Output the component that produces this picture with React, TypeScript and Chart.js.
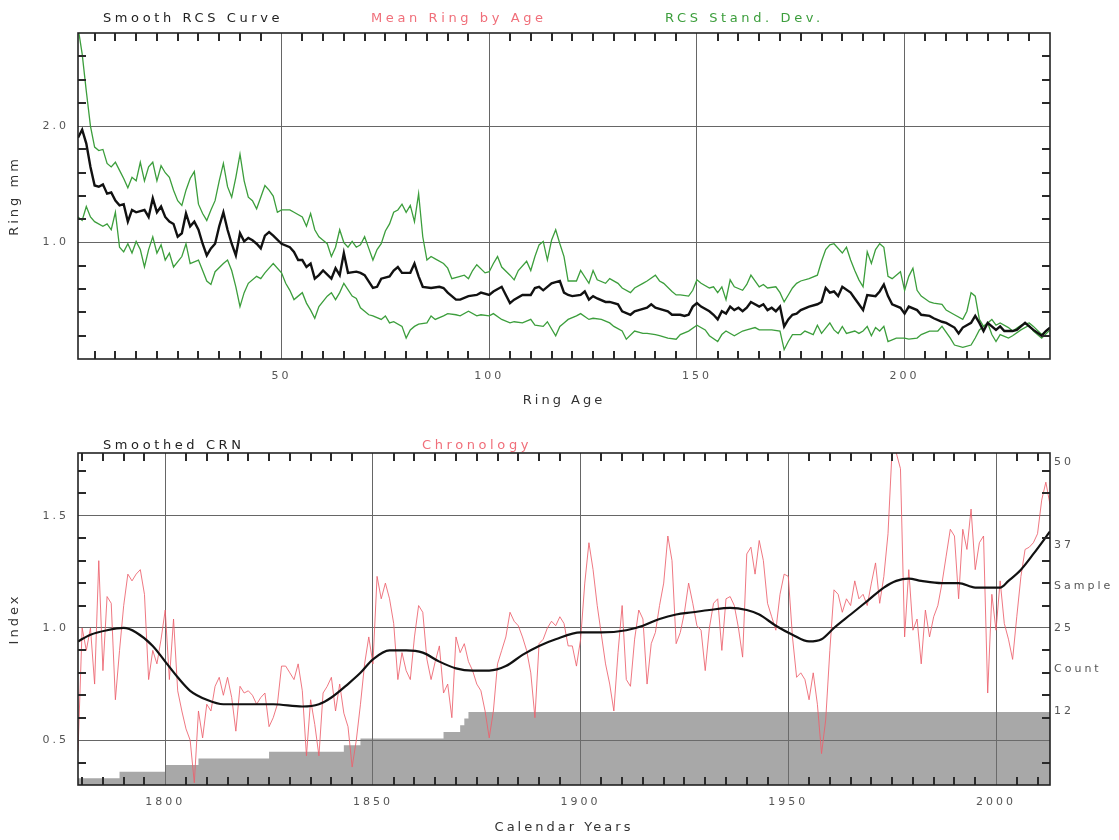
import React, { useEffect, useRef } from 'react';
import { Chart, registerables } from 'chart.js';

Chart.register(...registerables);
Chart.defaults.font.family = '"DejaVu Sans", sans-serif';

// ---------- Top chart: RCS curve (Ring age vs ring width, mm) ----------
const rcsCurve: [number, number][] = [
  [1,1.90],[2,1.97],[3,1.85],[4,1.65],[5,1.49],[6,1.48],[7,1.50],[8,1.42],[9,1.43],[10,1.36],[11,1.32],[12,1.33],[13,1.18],[14,1.28],[15,1.26],[16,1.27],[17,1.28],[18,1.22],[19,1.38],[20,1.26],[21,1.31],[22,1.22],[23,1.18],[24,1.16],[25,1.05],[26,1.08],[27,1.25],[28,1.14],[29,1.18],[30,1.11],[31,0.99],[32,0.89],[33,0.95],[34,0.99],[35,1.14],[36,1.26],[37,1.11],[38,0.99],[39,0.89],[40,1.08],[41,1.01],[42,1.04],[43,1.02],[44,0.99],[45,0.95],[46,1.06],[47,1.09],[48,1.06],[50,0.99],[52,0.96],[53,0.92],[54,0.85],[55,0.85],[56,0.79],[57,0.82],[58,0.69],[59,0.72],[60,0.76],[62,0.69],[63,0.78],[64,0.72],[65,0.91],[66,0.74],[68,0.75],[69,0.74],[70,0.72],[72,0.61],[73,0.62],[74,0.69],[76,0.71],[77,0.76],[78,0.79],[79,0.74],[81,0.74],[82,0.82],[83,0.71],[84,0.62],[86,0.61],[88,0.62],[89,0.61],[90,0.57],[92,0.51],[93,0.51],[95,0.54],[97,0.55],[98,0.57],[100,0.55],[101,0.58],[103,0.62],[104,0.55],[105,0.48],[106,0.51],[108,0.55],[110,0.55],[111,0.61],[112,0.62],[113,0.59],[115,0.65],[116,0.66],[117,0.67],[118,0.57],[119,0.55],[120,0.54],[122,0.55],[123,0.58],[124,0.51],[125,0.54],[126,0.52],[128,0.49],[129,0.49],[131,0.47],[132,0.41],[134,0.38],[135,0.41],[136,0.42],[138,0.44],[139,0.47],[140,0.44],[142,0.42],[143,0.41],[144,0.38],[146,0.38],[147,0.37],[148,0.38],[149,0.45],[150,0.48],[151,0.45],[153,0.41],[154,0.38],[155,0.34],[156,0.41],[157,0.39],[158,0.45],[159,0.42],[160,0.44],[161,0.41],[162,0.44],[163,0.49],[165,0.45],[166,0.47],[167,0.42],[168,0.44],[169,0.41],[170,0.45],[171,0.28],[172,0.34],[173,0.38],[174,0.39],[175,0.42],[177,0.45],[179,0.47],[180,0.49],[181,0.61],[182,0.57],[183,0.58],[184,0.54],[185,0.62],[187,0.57],[188,0.52],[189,0.47],[190,0.42],[191,0.55],[193,0.54],[194,0.58],[195,0.64],[196,0.54],[197,0.47],[199,0.44],[200,0.39],[201,0.45],[203,0.42],[204,0.38],[206,0.37],[207,0.35],[209,0.32],[210,0.31],[212,0.27],[213,0.22],[214,0.27],[216,0.31],[217,0.37],[218,0.31],[219,0.24],[220,0.31],[222,0.25],[223,0.28],[224,0.24],[226,0.24],[227,0.25],[229,0.31],[230,0.28],[231,0.25],[233,0.20],[234,0.24],[235,0.27]
];

const sdUpper: [number, number][] = [
  [1,2.85],[2,2.62],[3,2.30],[4,2.00],[5,1.82],[6,1.79],[7,1.80],[8,1.68],[9,1.65],[10,1.69],[11,1.62],[12,1.55],[13,1.47],[14,1.56],[15,1.53],[16,1.69],[17,1.53],[18,1.65],[19,1.69],[20,1.53],[21,1.66],[22,1.60],[23,1.56],[24,1.45],[25,1.36],[26,1.32],[27,1.45],[28,1.55],[29,1.61],[30,1.33],[31,1.25],[32,1.19],[33,1.28],[34,1.36],[35,1.53],[36,1.68],[37,1.48],[38,1.39],[39,1.56],[40,1.76],[41,1.53],[42,1.39],[43,1.36],[44,1.29],[45,1.39],[46,1.49],[47,1.45],[48,1.40],[49,1.26],[50,1.28],[52,1.28],[53,1.26],[55,1.22],[56,1.14],[57,1.25],[58,1.11],[59,1.05],[60,1.02],[61,0.99],[62,0.88],[63,0.96],[64,1.11],[65,1.00],[66,0.96],[67,1.01],[68,0.96],[69,0.98],[70,1.05],[71,0.95],[72,0.85],[73,0.94],[74,0.99],[75,1.10],[76,1.16],[77,1.26],[78,1.28],[79,1.33],[80,1.26],[81,1.32],[82,1.18],[83,1.42],[84,1.05],[85,0.85],[86,0.88],[87,0.86],[89,0.82],[90,0.78],[91,0.69],[93,0.71],[94,0.72],[95,0.69],[96,0.76],[97,0.81],[99,0.74],[100,0.75],[101,0.82],[102,0.88],[103,0.79],[105,0.72],[106,0.68],[107,0.76],[109,0.84],[110,0.76],[111,0.88],[112,0.98],[113,1.01],[114,0.85],[115,1.02],[116,1.11],[117,0.99],[118,0.88],[119,0.67],[121,0.67],[122,0.76],[124,0.65],[125,0.76],[126,0.68],[128,0.65],[129,0.69],[131,0.65],[132,0.61],[134,0.57],[135,0.61],[137,0.65],[138,0.67],[140,0.72],[141,0.67],[142,0.65],[144,0.58],[145,0.55],[146,0.55],[148,0.54],[149,0.59],[150,0.68],[151,0.65],[153,0.61],[154,0.62],[155,0.57],[156,0.62],[157,0.51],[158,0.68],[159,0.62],[161,0.59],[162,0.64],[163,0.72],[165,0.62],[166,0.64],[167,0.61],[169,0.62],[170,0.57],[171,0.49],[172,0.55],[173,0.61],[174,0.65],[175,0.67],[177,0.69],[179,0.72],[180,0.84],[181,0.94],[182,0.98],[183,0.99],[185,0.91],[186,0.96],[187,0.85],[188,0.76],[189,0.68],[190,0.62],[191,0.92],[192,0.82],[193,0.94],[194,0.99],[195,0.96],[196,0.71],[197,0.69],[199,0.75],[200,0.59],[201,0.71],[202,0.78],[203,0.59],[204,0.54],[206,0.49],[207,0.48],[209,0.47],[210,0.42],[212,0.38],[214,0.34],[215,0.41],[216,0.57],[217,0.54],[218,0.34],[219,0.28],[221,0.34],[222,0.29],[223,0.31],[225,0.27],[226,0.24],[228,0.29],[230,0.31],[231,0.28],[233,0.21],[235,0.27]
];

const sdLower: [number, number][] = [
  [1,1.22],[2,1.19],[3,1.31],[4,1.22],[5,1.18],[7,1.14],[8,1.16],[9,1.11],[10,1.26],[11,0.96],[12,0.92],[13,0.99],[14,0.91],[15,1.01],[16,0.94],[17,0.79],[18,0.94],[19,1.05],[20,0.91],[21,0.98],[22,0.85],[23,0.91],[24,0.79],[26,0.88],[27,0.99],[28,0.82],[30,0.85],[31,0.76],[32,0.67],[33,0.64],[34,0.75],[36,0.82],[37,0.85],[38,0.76],[39,0.62],[40,0.45],[41,0.57],[42,0.65],[44,0.71],[45,0.69],[46,0.74],[47,0.78],[48,0.82],[50,0.74],[51,0.65],[52,0.59],[53,0.51],[55,0.57],[56,0.48],[57,0.42],[58,0.35],[59,0.45],[61,0.54],[62,0.57],[63,0.51],[64,0.57],[65,0.65],[67,0.54],[68,0.52],[69,0.44],[71,0.38],[72,0.37],[74,0.34],[75,0.37],[76,0.31],[77,0.32],[79,0.28],[80,0.18],[81,0.25],[82,0.28],[83,0.30],[85,0.31],[86,0.37],[87,0.34],[89,0.37],[90,0.39],[92,0.38],[93,0.37],[95,0.41],[97,0.37],[98,0.38],[100,0.37],[101,0.39],[103,0.34],[105,0.31],[106,0.32],[108,0.31],[110,0.34],[111,0.29],[113,0.28],[114,0.32],[116,0.20],[117,0.28],[118,0.31],[119,0.34],[121,0.37],[122,0.39],[124,0.34],[125,0.35],[127,0.34],[129,0.31],[130,0.28],[132,0.24],[133,0.17],[135,0.24],[137,0.22],[138,0.22],[140,0.21],[141,0.20],[143,0.18],[145,0.17],[146,0.21],[148,0.24],[150,0.29],[152,0.25],[153,0.20],[155,0.15],[156,0.21],[157,0.24],[159,0.20],[161,0.24],[162,0.25],[164,0.27],[165,0.25],[168,0.25],[170,0.24],[171,0.08],[172,0.15],[173,0.21],[175,0.21],[176,0.24],[178,0.21],[179,0.29],[180,0.22],[182,0.31],[183,0.25],[184,0.22],[185,0.28],[186,0.22],[188,0.24],[189,0.22],[190,0.24],[191,0.28],[192,0.20],[193,0.27],[194,0.24],[195,0.28],[196,0.15],[198,0.18],[200,0.18],[201,0.17],[203,0.18],[204,0.21],[206,0.24],[208,0.24],[209,0.28],[211,0.18],[212,0.12],[214,0.10],[216,0.12],[217,0.18],[218,0.25],[220,0.31],[221,0.21],[222,0.15],[223,0.21],[225,0.18],[226,0.20],[228,0.25],[230,0.29],[231,0.24],[233,0.18],[235,0.25]
];

const ageRange = [1, 235];
const mmRange = [0, 2.8];
const ageTicks = [50, 100, 150, 200];
const mmTicks = [1.0, 2.0];
const ageMinor = [5,10,15,20,25,30,35,40,45,55,60,65,70,75,80,85,90,95,105,110,115,120,125,130,135,140,145,155,160,165,170,175,180,185,190,195,205,210,215,220,225,230];
const mmMinor = [0.2, 0.4, 0.6, 0.8, 1.2, 1.4, 1.6, 1.8, 2.2, 2.4, 2.6];

// ---------- Bottom chart: chronology (calendar years vs index) ----------
const chronStart = 1779;
const chronIndex = [
  0.45,
  1.00, 0.90, 1.00, 0.75, 1.30, 0.81, 1.14, 1.11, 0.68, 0.90,
  1.10, 1.24, 1.21, 1.24, 1.26, 1.15, 0.77, 0.90, 0.84, 0.95,
  1.08, 0.77, 1.04, 0.72, 0.63, 0.55, 0.50, 0.31, 0.63, 0.51,
  0.66, 0.63, 0.74, 0.78, 0.70, 0.78, 0.69, 0.54, 0.74, 0.71,
  0.72, 0.70, 0.66, 0.69, 0.71, 0.56, 0.60, 0.66, 0.83, 0.83,
  0.80, 0.77, 0.84, 0.72, 0.43, 0.68, 0.57, 0.43, 0.71, 0.74,
  0.78, 0.63, 0.75, 0.62, 0.56, 0.38, 0.50, 0.66, 0.84, 0.96,
  0.84, 1.23, 1.13, 1.20, 1.13, 1.02, 0.77, 0.89, 0.81, 0.77,
  0.96, 1.10, 1.07, 0.86, 0.77, 0.85, 0.92, 0.71, 0.75, 0.60,
  0.96, 0.89, 0.93, 0.85, 0.81, 0.75, 0.72, 0.63, 0.51, 0.63,
  0.84, 0.90, 0.96, 1.07, 1.03, 1.01, 0.96, 0.90, 0.80, 0.60,
  0.93, 0.95, 1.00, 1.03, 1.01, 1.05, 1.02, 0.92, 0.92, 0.83,
  0.95, 1.20, 1.38, 1.26, 1.10, 0.97, 0.84, 0.75, 0.63, 0.89,
  1.10, 0.77, 0.74, 0.95, 1.08, 1.04, 0.75, 0.93, 0.98, 1.10,
  1.20, 1.41, 1.30, 0.93, 0.98, 1.07, 1.20, 1.11, 1.01, 0.99,
  0.81, 1.00, 1.11, 1.13, 0.90, 1.13, 1.14, 1.10, 1.00, 0.87,
  1.33, 1.36, 1.24, 1.39, 1.30, 1.11, 1.05, 0.99, 1.15, 1.24,
  1.23, 0.96, 0.78, 0.80, 0.77, 0.68, 0.80, 0.66, 0.44, 0.59,
  0.90, 1.17, 1.15, 1.07, 1.13, 1.10, 1.21, 1.13, 1.15, 1.10,
  1.20, 1.29, 1.11, 1.23, 1.42, 1.80, 1.78, 1.71, 0.96, 1.26,
  0.99, 1.04, 0.84, 1.08, 0.96, 1.05, 1.10, 1.20, 1.32, 1.44,
  1.41, 1.13, 1.44, 1.35, 1.53, 1.26, 1.38, 1.41, 0.71, 1.15,
  0.99, 1.21, 1.02, 0.95, 0.86, 1.05, 1.23, 1.35, 1.36, 1.38,
  1.42, 1.57, 1.65, 1.55
];

const smoothCrn: [number, number][] = [
  [1779,0.94],[1782,0.97],[1786,0.99],[1790,1.00],[1793,0.98],[1797,0.92],[1800,0.85],[1803,0.78],[1806,0.72],[1810,0.68],[1814,0.66],[1820,0.66],[1826,0.66],[1833,0.65],[1837,0.66],[1840,0.69],[1844,0.75],[1847,0.80],[1850,0.86],[1854,0.90],[1858,0.90],[1862,0.89],[1866,0.85],[1870,0.82],[1874,0.81],[1878,0.81],[1882,0.83],[1886,0.88],[1890,0.92],[1894,0.95],[1900,0.98],[1905,0.98],[1911,0.99],[1915,1.01],[1919,1.04],[1923,1.06],[1927,1.07],[1931,1.08],[1936,1.09],[1940,1.08],[1943,1.06],[1947,1.01],[1951,0.97],[1955,0.94],[1958,0.95],[1961,1.00],[1965,1.06],[1969,1.12],[1973,1.18],[1976,1.21],[1979,1.22],[1982,1.21],[1987,1.20],[1991,1.20],[1995,1.18],[1999,1.18],[2001,1.18],[2003,1.21],[2006,1.26],[2009,1.33],[2013,1.43]
];

const countYears = [1779, 1789, 1800, 1808, 1825, 1843, 1847, 1867, 1871, 1872, 1873, 2013];
const sampleCounts = [1, 2, 3, 4, 5, 6, 7, 8, 9, 10, 11, 11];

const yearRange = [1779, 2013];
const indexRange = [0.3, 1.78];
const yearTicks = [1800, 1850, 1900, 1950, 2000];
const indexTicks = [0.5, 1.0, 1.5];
const yearMinor = [1780,1785,1790,1795,1805,1810,1815,1820,1825,1830,1835,1840,1845,1855,1860,1865,1870,1875,1880,1885,1890,1895,1905,1910,1915,1920,1925,1930,1935,1940,1945,1955,1960,1965,1970,1975,1980,1985,1990,1995,2005,2010];
const indexMinor = [0.4, 0.6, 0.7, 0.8, 0.9, 1.1, 1.2, 1.3, 1.4, 1.6, 1.7];
const countTickValues = [12.5, 18.75, 25, 31.25, 37.5, 50];
const countTickLabels = ['12', 'Count', '25', 'Sample', '37', '50'];

// ---------- helpers ----------
type Txt = { t: string; x: number; y: number; c: string };

function pix(scale: any, v: number, lo: number, hi: number, p0: number, p1: number) {
  const p = scale && scale.getPixelForValue ? scale.getPixelForValue(v) : NaN;
  return Number.isFinite(p) ? p : p0 + ((v - lo) / (hi - lo)) * (p1 - p0);
}

// inward minor tick marks on all four sides, plot frame and header labels
function makeOverlay(xr: number[], yr: number[], xMinor: number[], yMinor: number[], texts: Txt[]) {
  return {
    id: 'overlay',
    beforeDraw(chart: any) {
      chart.ctx.letterSpacing = '3px';
    },
    afterDraw(chart: any) {
      const ctx: CanvasRenderingContext2D = chart.ctx;
      const a = chart.chartArea;
      const sx = chart.scales['x'];
      const sy = chart.scales['y'];
      const L = 8;
      ctx.save();
      ctx.fillStyle = '#2a2a2a';
      for (let i = 0; i < xMinor.length; i++) {
        const px = Math.round(pix(sx, xMinor[i], xr[0], xr[1], a.left, a.right));
        ctx.fillRect(px - 1, a.top, 2, L);
        ctx.fillRect(px - 1, a.bottom - L, 2, L);
      }
      for (let i = 0; i < yMinor.length; i++) {
        const py = Math.round(pix(sy, yMinor[i], yr[0], yr[1], a.bottom, a.top));
        ctx.fillRect(a.left, py - 1, L, 2);
        ctx.fillRect(a.right - L, py - 1, L, 2);
      }
      ctx.lineWidth = 1.6;
      ctx.strokeStyle = '#222';
      ctx.strokeRect(a.left, a.top, a.right - a.left, a.bottom - a.top);
      ctx.font = '13px "DejaVu Sans", sans-serif';
      (ctx as any).letterSpacing = '3.6px';
      ctx.textBaseline = 'middle';
      ctx.textAlign = 'left';
      for (const t of texts) {
        ctx.fillStyle = t.c;
        ctx.fillText(t.t, t.x, t.y);
      }
      ctx.restore();
    },
  };
}

const tickFont = { size: 11 };
const titleFont = { size: 13 };
const gridStyle = { color: '#666', lineWidth: 1, drawTicks: false };

export default function App() {
  const ref1 = useRef<HTMLCanvasElement>(null);
  const ref2 = useRef<HTMLCanvasElement>(null);

  useEffect(() => {
    const pts = (arr: [number, number][]) => arr.map(([x, y]) => ({ x, y }));

    const c1 = new Chart(ref1.current as HTMLCanvasElement, {
      type: 'line',
      data: {
        datasets: [
          { data: pts(rcsCurve), borderColor: '#111', borderWidth: 2.4, pointRadius: 0, order: 0 },
          { data: pts(sdUpper), borderColor: '#3c9e3c', borderWidth: 1.3, pointRadius: 0, order: 1 },
          { data: pts(sdLower), borderColor: '#3c9e3c', borderWidth: 1.3, pointRadius: 0, order: 2 },
        ],
      },
      options: {
        responsive: false,
        animation: false,
        layout: { padding: { top: 33, right: 69, left: 0, bottom: 0 } },
        plugins: { legend: { display: false }, tooltip: { enabled: false } },
        scales: {
          x: {
            type: 'linear', position: 'bottom', min: ageRange[0], max: ageRange[1],
            afterBuildTicks: (s: any) => { s.ticks = ageTicks.map((v) => ({ value: v })); },
            afterFit: (s: any) => { s.height = 61; },
            grid: gridStyle, border: { display: false },
            ticks: { padding: 11, color: '#555', font: tickFont, autoSkip: false, maxRotation: 0, callback: (v: any) => String(v) },
            title: { display: true, text: 'Ring Age', color: '#333', font: titleFont, padding: { top: 0, bottom: 12 } },
          },
          y: {
            type: 'linear', position: 'left', min: mmRange[0], max: mmRange[1],
            afterBuildTicks: (s: any) => { s.ticks = mmTicks.map((v) => ({ value: v })); },
            afterFit: (s: any) => { s.width = 78; },
            grid: gridStyle, border: { display: false },
            ticks: { padding: 9, color: '#555', font: tickFont, autoSkip: false, callback: (v: any) => Number(v).toFixed(1) },
            title: { display: true, text: 'Ring mm', color: '#333', font: titleFont, padding: { top: 7, bottom: 0 } },
          },
        },
      } as any,
      plugins: [
        makeOverlay(ageRange, mmRange, ageMinor, mmMinor, [
          { t: 'Smooth RCS Curve', x: 103, y: 19, c: '#222' },
          { t: 'Mean Ring by Age', x: 371, y: 19, c: '#f06f7a' },
          { t: 'RCS Stand. Dev.', x: 665, y: 19, c: '#3c9e3c' },
        ]),
      ],
    });

    const c2 = new Chart(ref2.current as HTMLCanvasElement, {
      type: 'line',
      data: {
        datasets: [
          { data: pts(smoothCrn), borderColor: '#111', borderWidth: 2.2, pointRadius: 0, cubicInterpolationMode: 'monotone', order: 0 },
          { data: chronIndex.map((y, i) => ({ x: chronStart + i, y })), borderColor: 'rgba(236,96,108,0.85)', borderWidth: 1, pointRadius: 0, order: 1 },
          {
            data: countYears.map((x, i) => ({ x, y: sampleCounts[i] })), yAxisID: 'y2',
            stepped: 'before', fill: 'origin', backgroundColor: 'rgba(110,110,110,0.6)',
            borderWidth: 0, borderColor: 'rgba(0,0,0,0)', pointRadius: 0, order: 5,
          },
        ],
      },
      options: {
        responsive: false,
        animation: false,
        layout: { padding: { top: 33, right: 0, left: 0, bottom: 0 } },
        plugins: { legend: { display: false }, tooltip: { enabled: false } },
        scales: {
          x: {
            type: 'linear', position: 'bottom', min: yearRange[0], max: yearRange[1],
            afterBuildTicks: (s: any) => { s.ticks = yearTicks.map((v) => ({ value: v })); },
            afterFit: (s: any) => { s.height = 55; },
            grid: gridStyle, border: { display: false },
            ticks: { padding: 11, color: '#555', font: tickFont, autoSkip: false, maxRotation: 0, callback: (v: any) => String(v) },
            title: { display: true, text: 'Calendar Years', color: '#333', font: titleFont, padding: { top: 0, bottom: 5 } },
          },
          y: {
            type: 'linear', position: 'left', min: indexRange[0], max: indexRange[1],
            afterBuildTicks: (s: any) => { s.ticks = indexTicks.map((v) => ({ value: v })); },
            afterFit: (s: any) => { s.width = 78; },
            grid: gridStyle, border: { display: false },
            ticks: { padding: 9, color: '#555', font: tickFont, autoSkip: false, callback: (v: any) => Number(v).toFixed(1) },
            title: { display: true, text: 'Index', color: '#333', font: titleFont, padding: { top: 7, bottom: 0 } },
          },
          y2: {
            type: 'linear', position: 'right', min: 0, max: 50,
            afterBuildTicks: (s: any) => { s.ticks = countTickValues.map((v) => ({ value: v })); },
            afterFit: (s: any) => { s.width = 69; },
            grid: { display: false, drawTicks: false }, border: { display: false },
            ticks: {
              padding: 4, labelOffset: 9, color: '#555', font: tickFont, autoSkip: false,
              callback: (_v: any, i: number) => countTickLabels[i],
            },
          },
        },
      } as any,
      plugins: [
        makeOverlay(yearRange, indexRange, yearMinor, indexMinor, [
          { t: 'Smoothed CRN', x: 103, y: 26, c: '#222' },
          { t: 'Chronology', x: 422, y: 26, c: '#f06f7a' },
        ]),
      ],
    });

    return () => { c1.destroy(); c2.destroy(); };
  }, []);

  return (
    <div style={{ position: 'absolute', left: 0, top: 0, width: 1119, height: 840, background: '#fff' }}>
      <canvas ref={ref1} width={1119} height={420} style={{ position: 'absolute', left: 0, top: 0 }} />
      <canvas ref={ref2} width={1119} height={420} style={{ position: 'absolute', left: 0, top: 420 }} />
    </div>
  );
}
